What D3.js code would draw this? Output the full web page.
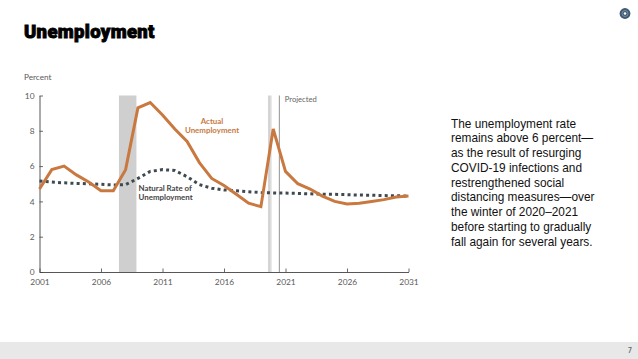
<!DOCTYPE html>
<html><head><meta charset="utf-8">
<script src="https://cdn.jsdelivr.net/npm/d3@7/dist/d3.min.js"></script>
<style>html,body{margin:0;padding:0;background:#fff}svg{display:block}</style>
</head><body><svg id="c" width="638" height="359"></svg>
<script>
const years=[2001,2002,2003,2004,2005,2006,2007,2008,2009,2010,2011,2012,2013,2014,2015,2016,2017,2018,2019,2020,2021,2022,2023,2024,2025,2026,2027,2028,2029,2030,2031];
const actual=[4.7,5.8,6.0,5.5,5.1,4.6,4.6,5.8,9.3,9.6,8.9,8.1,7.4,6.2,5.3,4.9,4.4,3.9,3.7,8.1,5.7,5.0,4.7,4.3,4.0,3.85,3.9,4.0,4.1,4.25,4.3];
const natural=[5.15,5.1,5.05,5.02,5.0,4.97,4.93,4.95,5.3,5.7,5.8,5.75,5.4,4.95,4.75,4.65,4.6,4.55,4.5,4.48,4.47,4.45,4.43,4.41,4.4,4.38,4.36,4.35,4.33,4.32,4.3];
const xTicks=[2001,2006,2011,2016,2021,2026,2031];
const yTicks=[0,2,4,6,8,10];
const recessions=[[2007.46,2008.88],[2019.6,2019.9]];
const projectedYear=2020.5;
const bodyLines=["The unemployment rate","remains above 6 percent—","as the result of resurging","COVID-19 infections and","restrengthened social","distancing measures—over","the winter of 2020–2021","before starting to gradually","fall again for several years."];

const svg=d3.select("#c");
const x=d3.scaleLinear().domain([2001,2031]).range([39.5,408.5]);
const y=d3.scaleLinear().domain([0,10]).range([272,95.5]);
const font="Lato, 'Open Sans', sans-serif";
const grey="#5a5a5a";

const defs=svg.append("defs");
const g=defs.append("linearGradient").attr("id","fade");
g.append("stop").attr("offset","0").attr("stop-color","#c4c4c4");
g.append("stop").attr("offset","1").attr("stop-color","#eeeeee");

svg.append("rect").attr("x",0).attr("y",342).attr("width",638).attr("height",17).attr("fill","#e8e8e8");
svg.append("text").attr("x",630).attr("y",353).attr("text-anchor","middle").attr("font-size",6.5).attr("font-family",font).attr("fill","#666").attr("font-weight",700).text("7");

svg.append("text").attr("x",24).attr("y",38).attr("font-family","Roboto, sans-serif").attr("font-weight",900)
  .attr("font-size",18.5).attr("letter-spacing",0.32).attr("stroke","#000").attr("stroke-width",0.9).attr("fill","#000").text("Unemployment");

// logo
const logo=svg.append("g").attr("transform","translate(625,13.5)");
logo.append("circle").attr("r",5.4).attr("fill","#3f5a72");
logo.append("circle").attr("r",3).attr("fill","none").attr("stroke","#8fa3b3").attr("stroke-width",0.7);
logo.append("circle").attr("r",1.3).attr("fill","#fff");

svg.append("text").attr("x",24).attr("y",80).attr("font-family",font).attr("font-size",8.2).attr("fill",grey).text("Percent");

svg.append("rect").attr("x",x(recessions[0][0])).attr("y",y(10)).attr("width",x(recessions[0][1])-x(recessions[0][0])).attr("height",y(0)-y(10)).attr("fill","#cfcfcf");
svg.append("rect").attr("x",x(recessions[1][0])).attr("y",y(10)).attr("width",x(recessions[1][1])-x(recessions[1][0])).attr("height",y(0)-y(10)).attr("fill","url(#fade)");
svg.append("line").attr("x1",x(projectedYear)).attr("x2",x(projectedYear)).attr("y1",y(10)).attr("y2",y(0)).attr("stroke","#777").attr("stroke-width",0.8);
svg.append("text").attr("x",x(projectedYear)+5.5).attr("y",101.5).attr("font-family",font).attr("font-size",7.6).attr("fill","#666").text("Projected");

const ax=svg.append("g").attr("transform","translate(0,272)").call(d3.axisBottom(x).tickValues(xTicks).tickFormat(d3.format("d")).tickSize(-3.5).tickPadding(7.5).tickSizeOuter(0));
ax.select(".domain").attr("stroke","#444").attr("stroke-width",0.9);
ax.selectAll(".tick line").attr("stroke","#444").attr("stroke-width",0.8);
ax.selectAll("text").attr("font-family",font).attr("font-size",8.4).attr("fill",grey);
const ay=svg.append("g").attr("transform","translate(39.5,0)").call(d3.axisLeft(y).tickValues(yTicks).tickSize(-3.5).tickPadding(5).tickSizeOuter(0));
ay.select(".domain").attr("stroke","#444").attr("stroke-width",0.9);
ay.selectAll(".tick line").attr("stroke","#444").attr("stroke-width",0.8);
ay.selectAll("text").attr("font-family",font).attr("font-size",8.4).attr("fill",grey);

const line=d3.line().x((d,i)=>x(years[i])).y(d=>y(d));
svg.append("path").attr("d",line(natural)).attr("fill","none").attr("stroke","#3f4a50").attr("stroke-width",3).attr("stroke-dasharray","3 3.2");
svg.append("path").attr("d",line(actual)).attr("fill","none").attr("stroke","#c9793f").attr("stroke-width",3).attr("stroke-linejoin","miter");

const lab=(t,px,py,col,anchor)=>svg.append("text").attr("x",px).attr("y",py).attr("text-anchor",anchor).attr("font-family",font).attr("font-weight",700).attr("font-size",7.9).attr("fill",col).text(t);
lab("Actual",212,124,"#c9793f","middle");
lab("Unemployment",212,133,"#c9793f","middle");
lab("Natural Rate of",138.5,190.5,"#444","start");
lab("Unemployment",138.5,200,"#444","start");

svg.append("g").selectAll("text").data(bodyLines).join("text")
  .attr("x",451).attr("y",(d,i)=>127.5+i*14.75)
  .attr("font-family","'Liberation Sans', Arial, sans-serif").attr("font-size",11.85).attr("fill","#111").text(d=>d);
</script></body></html>
